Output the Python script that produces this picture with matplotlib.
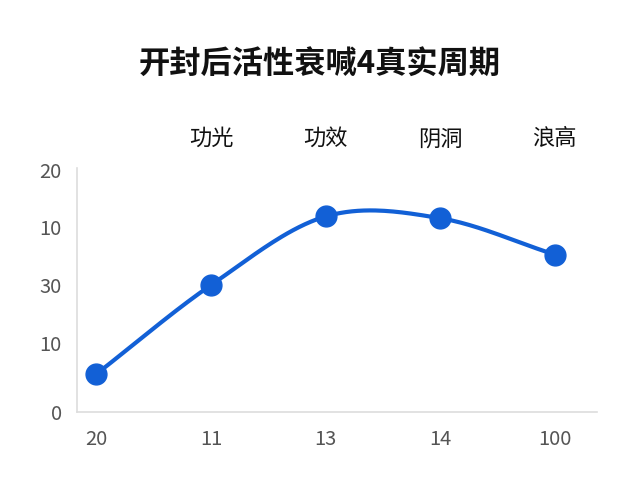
import numpy as np
import matplotlib
matplotlib.use("Agg")
import matplotlib.pyplot as plt

plt.rcParams['font.family'] = ['Noto Sans CJK SC', 'DejaVu Sans']

# data
title = "开封后活性衰喊4真实周期"
x_labels = ["20", "11", "13", "14", "100"]
top_labels = ["", "功光", "功效", "阴洞", "浪高"]
values = [6.6, 22.0, 33.9, 33.6, 27.3]
y_ticks = [0, 12, 22, 32, 42]
y_tick_labels = ["0", "10", "30", "10", "20"]


def catmull_rom(xs, ys, n=40):
    # smooth curve through the points
    xs = np.asarray(xs, float)
    ys = np.asarray(ys, float)
    px = np.concatenate([[2 * xs[0] - xs[1]], xs, [2 * xs[-1] - xs[-2]]])
    py = np.concatenate([[2 * ys[0] - ys[1]], ys, [2 * ys[-1] - ys[-2]]])
    out_x, out_y = [], []
    t = np.linspace(0, 1, n)
    for i in range(1, len(px) - 2):
        for p, out in ((px, out_x), (py, out_y)):
            p0, p1, p2, p3 = p[i - 1], p[i], p[i + 1], p[i + 2]
            out.extend(0.5 * ((2 * p1) + (-p0 + p2) * t
                              + (2 * p0 - 5 * p1 + 4 * p2 - p3) * t ** 2
                              + (-p0 + 3 * p1 - 3 * p2 + p3) * t ** 3))
    return np.array(out_x), np.array(out_y)


x = np.arange(len(values))
color = '#1260d6'

fig = plt.figure(figsize=(6.4, 4.8), dpi=100)
ax = fig.add_axes([77 / 640, 1 - 412 / 480, (597 - 77) / 640, (412 - 168) / 480])

cx, cy = catmull_rom(x, values)
ax.plot(cx, cy, color=color, linewidth=3, solid_capstyle='round', zorder=2)
ax.plot(x, values, 'o', color=color, markersize=15, zorder=3)

ax.set_xlim(-0.17, 4.37)
ax.set_ylim(0, 42.3)
ax.set_xticks(x)
ax.set_xticklabels(x_labels)
ax.set_yticks(y_ticks)
ax.set_yticklabels(y_tick_labels)
ax.tick_params(length=0, labelsize=14.5, labelcolor='#555555')
ax.tick_params(axis='x', pad=12)
ax.tick_params(axis='y', pad=11)

for s in ['top', 'right']:
    ax.spines[s].set_visible(False)
for s in ['left', 'bottom']:
    ax.spines[s].set_color('#dddddd')
    ax.spines[s].set_linewidth(1.2)

for xi, lab in zip(x, top_labels):
    if lab:
        ax.text(xi, 1.12, lab, transform=ax.get_xaxis_transform(),
                ha='center', va='center', fontsize=16, color='#111111')

fig.text(0.5, 1 - 65 / 480, title, ha='center', va='center',
         fontsize=22.5, fontweight='bold', color='#111111')

fig.savefig('out.png', dpi=100)
